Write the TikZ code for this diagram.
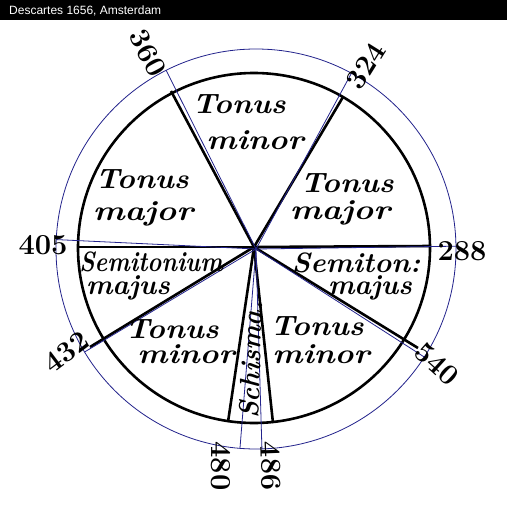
\documentclass[tikz,border=0pt]{standalone}
\usepackage{fontspec}
\newfontfamily\titlefont{Liberation Sans}
\definecolor{overlay}{RGB}{35,35,140}
\begin{document}
\begin{tikzpicture}[x=1pt,y=-1pt,
  blueline/.style={draw=overlay, line width=0.8pt},
  inkline/.style={draw=black, line width=2.6pt},
  lbl/.style={font=\fontsize{28}{28}\selectfont\bfseries\itshape, inner sep=0pt},
  num/.style={font=\fontsize{29}{29}\selectfont\bfseries, inner sep=0pt}]
\useasboundingbox (0,0) rectangle (507,506);
\fill[white] (0,0) rectangle (507,506);
\fill[black] (0,0) rectangle (507,20);
\node[anchor=west, text=white, font=\titlefont\fontsize{12}{12}\selectfont, inner sep=0pt] (title) at (9,11) {Descartes 1656, Amsterdam};

\coordinate (C) at (256,249);
\coordinate (K) at (254,247);
% hand-drawn ring
\draw[inkline] (254,248) ellipse (176 and 175);
% blue ring
\draw[blueline] (C) circle (200);

% outer points on the blue ring
\coordinate (p288) at ([shift={(-0.8:200)}]C);
\coordinate (p324) at ([shift={(-61.5:200)}]C);
\coordinate (p360) at ([shift={(-116.7:200)}]C);
\coordinate (p405) at ([shift={(-177.3:200)}]C);
\coordinate (p432) at ([shift={(-211:200)}]C);
\coordinate (p480) at ([shift={(-265.4:200)}]C);
\coordinate (p486) at ([shift={(-271.7:200)}]C);
\coordinate (p540) at ([shift={(-327.3:200)}]C);

% ends of the engraved strokes
\coordinate (k288) at (431,246);
\coordinate (k324) at (343,97);
\coordinate (k360) at (171,91);
\coordinate (k405) at (78,247);
\coordinate (k432) at (90,347);
\coordinate (k480) at (228,422);
\coordinate (k486) at (273,423);
\coordinate (k540) at (418,348);

\foreach \n in {288,324,360,405,432,480,486,540}
  \draw[inkline] (K) -- (k\n);
\foreach \n in {288,324,360,405,432,480,486,540}
  \draw[blueline] (C) -- (p\n);

% labels
\node[lbl, xscale=1.09] (t1a) at (239,104) {Tonus};
\node[lbl, xscale=1.14] (t1b) at (255,140) {minor};
\node[lbl, xscale=1.09] (t2a) at (347,183) {Tonus};
\node[lbl, xscale=1.2] (t2b) at (340,213) {major};
\node[lbl, xscale=1.09] (t3a) at (142,179) {Tonus};
\node[lbl, xscale=1.2] (t3b) at (143,214) {major};
\node[lbl, xscale=0.85] (s1a) at (151,262) {Semitonium};
\node[lbl] (s1b) at (128,288) {majus};
\node[lbl, xscale=1.03] (s2a) at (356,263) {Semiton:};
\node[lbl] (s2b) at (370,288) {majus};
\node[lbl, xscale=1.09] (t4a) at (172,329) {Tonus};
\node[lbl, xscale=1.14] (t4b) at (186,354) {minor};
\node[lbl, xscale=1.09] (t5a) at (317,326) {Tonus};
\node[lbl, xscale=1.14] (t5b) at (321,354) {minor};
\node[lbl, rotate=88, xscale=0.93] (sch) at (251,360) {Schisma.};

% numbers
\node[num, rotate=-62] (n360) at (148,53) {360};
\node[num, rotate=58] (n324) at (366,66) {324};
\node[num] (n288) at (462,251) {288};
\node[num] (n405) at (43,245) {405};
\node[num, rotate=37] (n432) at (66,352) {432};
\node[num, rotate=-90] (n480) at (221,466) {480};
\node[num, rotate=-88] (n486) at (271,466) {486};
\node[num, rotate=-42] (n540) at (437,364) {540};
\end{tikzpicture}
\end{document}
